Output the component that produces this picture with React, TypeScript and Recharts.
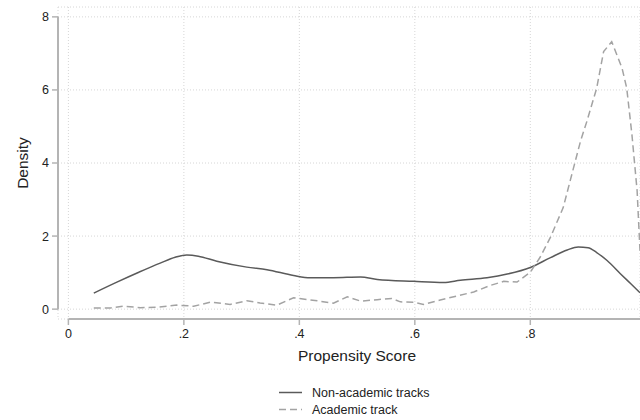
import React from 'react';
import { LineChart, Line, XAxis, YAxis, CartesianGrid, ReferenceLine, Label } from 'recharts';

const xTicks = [0, 0.2, 0.4, 0.6, 0.8];
const xTickLabels = ['0', '.2', '.4', '.6', '.8'];
const yTicks = [0, 2, 4, 6, 8];

const nonAcademicX = [0.044, 0.084, 0.122, 0.159, 0.185, 0.205, 0.225, 0.257, 0.309, 0.344, 0.39, 0.419, 0.459, 0.506, 0.535, 0.598, 0.65, 0.679, 0.725, 0.76, 0.8, 0.835, 0.864, 0.883, 0.9, 0.915, 0.933, 0.956, 0.975, 0.99];
const nonAcademicY = [0.44, 0.74, 1.01, 1.26, 1.42, 1.48, 1.45, 1.31, 1.15, 1.08, 0.92, 0.86, 0.86, 0.88, 0.81, 0.76, 0.73, 0.79, 0.86, 0.96, 1.14, 1.41, 1.62, 1.70, 1.68, 1.55, 1.33, 0.97, 0.68, 0.45];

const academicX = [0.044, 0.073, 0.095, 0.125, 0.154, 0.188, 0.217, 0.246, 0.28, 0.309, 0.332, 0.361, 0.39, 0.419, 0.431, 0.459, 0.483, 0.506, 0.535, 0.56, 0.575, 0.598, 0.615, 0.644, 0.673, 0.702, 0.731, 0.754, 0.777, 0.8, 0.817, 0.835, 0.857, 0.869, 0.887, 0.898, 0.915, 0.927, 0.941, 0.959, 0.967, 0.976, 0.985, 0.99];
const academicY = [0.03, 0.03, 0.08, 0.04, 0.05, 0.11, 0.08, 0.19, 0.13, 0.23, 0.17, 0.11, 0.31, 0.25, 0.23, 0.16, 0.34, 0.22, 0.26, 0.29, 0.2, 0.19, 0.13, 0.25, 0.36, 0.47, 0.65, 0.76, 0.74, 1.01, 1.42, 1.97, 2.78, 3.51, 4.6, 5.14, 6.05, 7.05, 7.32, 6.59, 6.05, 4.78, 3.24, 1.6];

const seriesNames = ['Non-academic tracks', 'Academic track'];

const nonAcademicData = nonAcademicX.map((x, i) => ({ x, y: nonAcademicY[i] }));
const academicData = academicX.map((x, i) => ({ x, y: academicY[i] }));

const X_MIN = -0.018;
const X_MAX = 0.99;
const Y_MIN = -0.27;
const Y_MAX = 8.27;

const FONT = '"Liberation Sans", Arial, sans-serif';
const AXIS_COLOR = '#b4b4b4';
const SOLID_COLOR = '#5a5a5a';
const DASH_COLOR = '#a3a3a3';

export default function App() {
  return (
    <div style={{ position: 'absolute', left: 0, top: 0, width: 640, height: 420, background: '#fff', fontFamily: FONT }}>
      <LineChart width={640} height={420} margin={{ top: 7, right: 0, left: 8, bottom: 51 }}>
        <CartesianGrid stroke="#d6d6d6" strokeDasharray="1 2" vertical={true} horizontal={true} />
        <XAxis
          type="number"
          dataKey="x"
          domain={[X_MIN, X_MAX]}
          ticks={xTicks}
          allowDataOverflow
          tickFormatter={(v: number) => xTickLabels[xTicks.indexOf(v)] ?? String(v)}
          axisLine={false}
          tickLine={{ stroke: AXIS_COLOR, strokeWidth: 1.5 }}
          tickSize={6}
          tickMargin={4}
          height={50}
          tick={{ fill: '#222', fontSize: 12.5, fontFamily: FONT }}
        >
          <Label
            content={() => (
              <text x={357} y={355} textAnchor="middle" dominantBaseline="central" fill="#222" fontSize={15.5} fontFamily={FONT}>
                Propensity Score
              </text>
            )}
          />
        </XAxis>
        <YAxis
          type="number"
          domain={[Y_MIN, Y_MAX]}
          ticks={yTicks}
          allowDataOverflow
          axisLine={false}
          tickLine={{ stroke: AXIS_COLOR, strokeWidth: 1.5 }}
          tickSize={6}
          tickMargin={3}
          width={50}
          tick={{ fill: '#222', fontSize: 12.5, fontFamily: FONT }}
        >
          <Label
            content={(props: any) => {
              const vb = props.viewBox || { x: 8, y: 7, width: 50, height: 312 };
              const cx = vb.x + 14;
              const cy = vb.y + vb.height / 2;
              return (
                <text x={cx} y={cy} transform={`rotate(-90 ${cx} ${cy})`} textAnchor="middle" dominantBaseline="central" fill="#222" fontSize={15.5} fontFamily={FONT}>
                  Density
                </text>
              );
            }}
          />
        </YAxis>
        <ReferenceLine segment={[{ x: 0, y: Y_MIN }, { x: X_MAX, y: Y_MIN }]} stroke={AXIS_COLOR} strokeWidth={2} ifOverflow="visible" />
        <ReferenceLine segment={[{ x: X_MIN, y: 0 }, { x: X_MIN, y: 8 }]} stroke={AXIS_COLOR} strokeWidth={2} ifOverflow="visible" />
        <Line data={nonAcademicData} dataKey="y" name={seriesNames[0]} type="monotone" stroke={SOLID_COLOR} strokeWidth={1.5} dot={false} isAnimationActive={false} />
        <Line data={academicData} dataKey="y" name={seriesNames[1]} type="linear" stroke={DASH_COLOR} strokeWidth={1.5} strokeDasharray="7 4" dot={false} isAnimationActive={false} />
      </LineChart>
      <svg width={640} height={60} style={{ position: 'absolute', left: 0, top: 370 }}>
        <line x1={279} x2={302} y1={22.5} y2={22.5} stroke={SOLID_COLOR} strokeWidth={1.5} />
        <text x={312} y={22.5} dominantBaseline="central" fontSize={12.5} fill="#222" fontFamily={FONT}>{seriesNames[0]}</text>
        <line x1={279} x2={302} y1={39.5} y2={39.5} stroke={DASH_COLOR} strokeWidth={1.5} strokeDasharray="7 4" />
        <text x={312} y={39.5} dominantBaseline="central" fontSize={12.5} fill="#222" fontFamily={FONT}>{seriesNames[1]}</text>
      </svg>
    </div>
  );
}
